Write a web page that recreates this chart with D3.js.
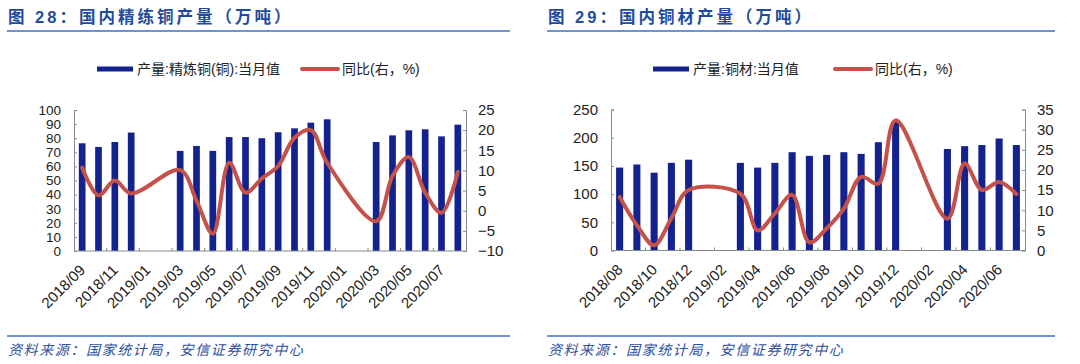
<!DOCTYPE html>
<html><head><meta charset="utf-8">
<script src="https://cdn.jsdelivr.net/npm/d3@7"></script>
<style>
html,body{margin:0;padding:0;background:#fff;}
svg{display:block;}
text{font-family:"Liberation Sans","Noto Sans CJK SC",sans-serif;}
</style></head>
<body>
<svg id="c" width="1080" height="364"></svg>
<script>
// ---------- data ----------
const months1 = ["2018/09","2018/10","2018/11","2018/12","2019/01","2019/02","2019/03","2019/04","2019/05","2019/06","2019/07","2019/08","2019/09","2019/10","2019/11","2019/12","2020/01","2020/02","2020/03","2020/04","2020/05","2020/06","2020/07","2020/08"];
const refinedOutput = [76.4,73.8,77.3,84,null,null,71,74.5,71,80.8,80.8,80,84.2,87,91,93.4,null,null,77.3,82,85.6,86.3,81.3,89.6];
const refinedYoY = [10.7,3.8,7.5,4.3,null,null,10.1,2.5,-5.7,11.9,4.5,8,11.1,18.1,20,11.9,null,null,-2.6,8.6,13.3,4.5,-0.5,9.6];
const leftTicks1 = [0,10,20,30,40,50,60,70,80,90,100];
const rightTicks1 = [-10,-5,0,5,10,15,20,25];

const months2 = ["2018/08","2018/09","2018/10","2018/11","2018/12","2019/01","2019/02","2019/03","2019/04","2019/05","2019/06","2019/07","2019/08","2019/09","2019/10","2019/11","2019/12","2020/01","2020/02","2020/03","2020/04","2020/05","2020/06","2020/07"];
const copperOutput = [147,152.5,138,155.4,161,null,null,155.4,147,155.4,174.3,167.8,169.5,174.3,171.3,192,228,null,null,180,185,187,198.6,187];
const copperYoY = [13.3,6.3,1.3,8,15,null,null,14.1,5,9.2,13.8,2,5.5,10.4,18.3,16.6,32.3,null,null,7.9,21.6,15,17,14];
const leftTicks2 = [0,50,100,150,200,250];
const rightTicks2 = [0,5,10,15,20,25,30,35];

const titles = ["图 28：国内精练铜产量（万吨）","图 29：国内铜材产量（万吨）"];
const barNames = ["产量:精炼铜(铜):当月值","产量:铜材:当月值"];
const lineName = "同比(右，%)";
const source = "资料来源：国家统计局，安信证券研究中心";

// ---------- drawing ----------
const svg = d3.select("#c");
const BAR = "#13228f", LINE = "#c5524a", AXIS = "#8a8a8a", BLUE = "#1f4b9c";

function chart(o){
  const g = svg.append("g");
  // title + rules
  g.append("text").attr("x",o.ox+8).attr("y",23).attr("fill",BLUE)
    .attr("font-size",16.5).attr("font-weight","bold").attr("letter-spacing","3px")
    .text(o.title);
  g.append("line").attr("x1",o.ox+7).attr("x2",o.ox+o.ruleW).attr("y1",31).attr("y2",31)
    .attr("stroke","#3f6fc6").attr("stroke-width",1.3);
  g.append("line").attr("x1",o.ox+7).attr("x2",o.ox+o.ruleW).attr("y1",336).attr("y2",336)
    .attr("stroke","#3f6fc6").attr("stroke-width",1.3);
  g.append("text").attr("x",o.ox+8).attr("y",355).attr("fill","#2e50a0")
    .attr("font-size",14).attr("font-style","italic").attr("letter-spacing","1.6px")
    .text(source);

  // scales
  const x = d3.scaleBand().domain(o.months).range([o.x0,o.x1]).padding(0);
  const yL = d3.scaleLinear().domain(o.leftDom).range([o.yb,o.yt]);
  const yR = d3.scaleLinear().domain(o.rightDom).range([o.yb,o.yt]);
  const bw = x.bandwidth()*0.41;

  // bars
  g.append("g").selectAll("rect").data(o.months.map((m,i)=>({m,v:o.bars[i]})).filter(d=>d.v!=null))
    .join("rect")
    .attr("x",d=>x(d.m)+x.bandwidth()/2-bw/2).attr("width",bw)
    .attr("y",d=>yL(d.v)).attr("height",d=>yL(0)-yL(d.v)).attr("fill",BAR);

  // line
  const pts = o.months.map((m,i)=>({m,v:o.line[i]})).filter(d=>d.v!=null);
  g.append("path").datum(pts)
    .attr("d",d3.line().x(d=>x(d.m)+x.bandwidth()/2).y(d=>yR(d.v)).curve(d3.curveCatmullRom.alpha(0.5)))
    .attr("fill","none").attr("stroke",LINE).attr("stroke-width",4).attr("stroke-linecap","round").attr("stroke-linejoin","round");

  // axes
  const styleAxis = fs => sel => { sel.selectAll("path,line").attr("stroke",AXIS);
    sel.selectAll("text").attr("fill","#222").attr("font-size",fs).attr("font-family","Liberation Sans"); };
  g.append("g").attr("transform",`translate(${o.x0},0)`)
    .call(d3.axisLeft(yL).tickValues(o.leftTicks).tickSizeInner(-3).tickSizeOuter(-3).tickPadding(13).tickFormat(d3.format("d")))
    .call(styleAxis(o.leftFs));
  g.append("g").attr("transform",`translate(${o.x1},0)`)
    .call(d3.axisRight(yR).tickValues(o.rightTicks).tickSizeInner(-3).tickSizeOuter(-3).tickPadding(12).tickFormat(d3.format("d")))
    .call(styleAxis(15));
  // x axis with ticks every two categories (boundaries) and labels every two categories
  const xa = g.append("g").attr("transform",`translate(0,${o.yb})`);
  xa.append("line").attr("x1",o.x0).attr("x2",o.x1).attr("stroke",AXIS);
  const bnd = d3.range(2,o.months.length,2);
  xa.selectAll("line.t").data(bnd).join("line").attr("class","t")
    .attr("x1",i=>o.x0+i*x.step()).attr("x2",i=>o.x0+i*x.step()).attr("y1",0).attr("y2",-3).attr("stroke",AXIS);
  xa.selectAll("text").data(o.months.filter((m,i)=>i%2===0)).join("text")
    .attr("transform",d=>`translate(${x(d)+x.bandwidth()/2+4},${20}) rotate(-45)`)
    .attr("text-anchor","end").attr("font-size",15).attr("fill","#222").text(d=>d);

  // legend
  const ly = 69;
  g.append("rect").attr("x",o.ox+o.lg[0]).attr("y",ly-2.5).attr("width",36).attr("height",5).attr("fill",BAR);
  g.append("text").attr("x",o.ox+o.lg[0]+40).attr("y",ly+5).attr("font-size",14).attr("fill","#222").text(o.barName);
  g.append("line").attr("x1",o.ox+o.lg[1]+2).attr("x2",o.ox+o.lg[1]+38).attr("y1",ly).attr("y2",ly)
    .attr("stroke",LINE).attr("stroke-width",4).attr("stroke-linecap","round");
  g.append("text").attr("x",o.ox+o.lg[1]+42).attr("y",ly+5).attr("font-size",14).attr("fill","#222").text(lineName);
}

chart({ox:0, ruleW:510, title:titles[0], months:months1, bars:refinedOutput, line:refinedYoY,
  leftDom:[0,100], rightDom:[-10,25], leftTicks:leftTicks1, rightTicks:rightTicks1, leftFs:13.5,
  x0:74, x1:466, yt:110, yb:251, barName:barNames[0], lg:[97,300]});
chart({ox:540, ruleW:515, title:titles[1], months:months2, bars:copperOutput, line:copperYoY,
  leftDom:[0,250], rightDom:[0,35], leftTicks:leftTicks2, rightTicks:rightTicks2, leftFs:15,
  x0:611, x1:1025, yt:109.5, yb:250.5, barName:barNames[1], lg:[113,293]});
</script>
</body></html>
